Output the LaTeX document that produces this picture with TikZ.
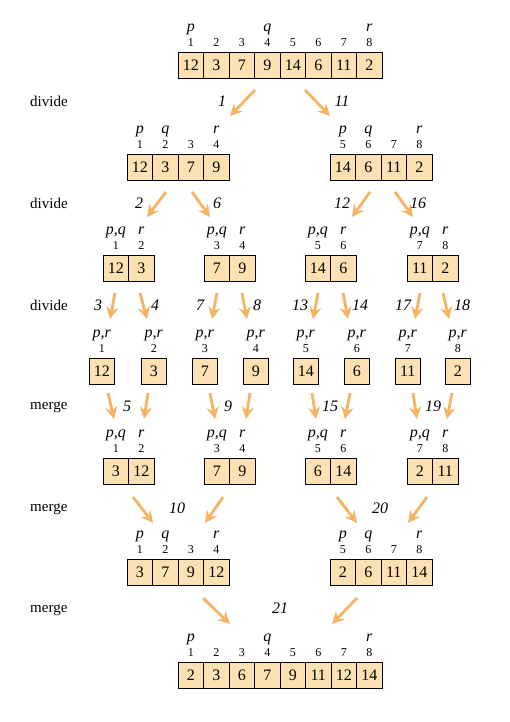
\documentclass[tikz,border=0pt]{standalone}
\usepackage{fontspec}
\setmainfont{Liberation Serif}
\usetikzlibrary{arrows.meta}
\definecolor{cellfill}{RGB}{253,225,178}
\definecolor{arrcol}{RGB}{247,178,98}
\tikzset{
  cell/.style={draw=black, fill=cellfill, line width=0.9pt, minimum width=25.5pt, minimum height=26pt, inner sep=0pt, font=\fontsize{16}{16}\selectfont},
  idx/.style={inner sep=0pt, font=\fontsize{12}{12}\selectfont},
  lett/.style={inner sep=0pt, text height=1.6ex, text depth=0.5ex, font=\fontsize{16}{16}\selectfont\itshape},
  lbl/.style={inner sep=0pt, anchor=west, font=\fontsize{15}{15}\selectfont},
  stepnum/.style={inner sep=0pt, font=\fontsize{16}{16}\selectfont\itshape},
  arr/.style={draw=arrcol, line width=2.8pt, -{Stealth[length=12pt,width=12pt,inset=4pt]}}
}
\newcommand\mkarr[4]{%
  \foreach \v/\k [count=\n] in {#4}{%
    \node[cell] (#1-\n) at ({#2+(\n-0.5)*25.5},{#3+13}) {\v};
    \node[idx] (#1-i\n) at ({#2+(\n-0.5)*25.5},{#3-9}) {\k};
  }}
\newcommand\mklet[3]{\path (#1-i#2) ++(0,-14) node[lett] (#1-l#2) {#3};}
\newcommand\arw[3]{\coordinate (#1s) at (#2); \coordinate (#1e) at (#3); \draw[arr] (#1s) -- (#1e);}
\begin{document}
\begin{tikzpicture}[x=1pt,y=-1pt]
\useasboundingbox (0,0) rectangle (509,722);
% level 1
\mkarr{A}{178}{52}{12/1,3/2,7/3,9/4,14/5,6/6,11/7,2/8}
\mklet{A}{1}{p}\mklet{A}{4}{q}\mklet{A}{8}{r}
% level 2
\mkarr{B}{127}{154}{12/1,3/2,7/3,9/4}
\mklet{B}{1}{p}\mklet{B}{2}{q}\mklet{B}{4}{r}
\mkarr{C}{330}{154}{14/5,6/6,11/7,2/8}
\mklet{C}{1}{p}\mklet{C}{2}{q}\mklet{C}{4}{r}
% level 3
\mkarr{D}{103}{255}{12/1,3/2}
\mkarr{E}{204}{255}{7/3,9/4}
\mkarr{F}{305}{255}{14/5,6/6}
\mkarr{G}{407}{255}{11/7,2/8}
\foreach \a in {D,E,F,G}{\mklet{\a}{1}{p,q}\mklet{\a}{2}{r}}
% level 4
\mkarr{H1}{89}{358}{12/1}
\mkarr{H2}{141}{358}{3/2}
\mkarr{H3}{192}{358}{7/3}
\mkarr{H4}{243}{358}{9/4}
\mkarr{H5}{293}{358}{14/5}
\mkarr{H6}{344}{358}{6/6}
\mkarr{H7}{395}{358}{11/7}
\mkarr{H8}{445}{358}{2/8}
\foreach \a in {H1,H2,H3,H4,H5,H6,H7,H8}{\mklet{\a}{1}{p,r}}
% level 5
\mkarr{I}{103}{458}{3/1,12/2}
\mkarr{J}{204}{458}{7/3,9/4}
\mkarr{K}{305}{458}{6/5,14/6}
\mkarr{M}{407}{458}{2/7,11/8}
\foreach \a in {I,J,K,M}{\mklet{\a}{1}{p,q}\mklet{\a}{2}{r}}
% level 6
\mkarr{N}{127}{559}{3/1,7/2,9/3,12/4}
\mklet{N}{1}{p}\mklet{N}{2}{q}\mklet{N}{4}{r}
\mkarr{O}{330}{559}{2/5,6/6,11/7,14/8}
\mklet{O}{1}{p}\mklet{O}{2}{q}\mklet{O}{4}{r}
% level 7
\mkarr{P}{178}{662}{2/1,3/2,6/3,7/4,9/5,11/6,12/7,14/8}
\mklet{P}{1}{p}\mklet{P}{4}{q}\mklet{P}{8}{r}
% side labels
\node[lbl] (d1) at (30,101) {divide};
\node[lbl] (d2) at (30,203) {divide};
\node[lbl] (d3) at (30,305) {divide};
\node[lbl] (m1) at (30,407) {merge};
\node[lbl] (m2) at (30,509) {merge};
\node[lbl] (m3) at (30,610) {merge};
% arrows
\arw{s1}{255,90}{230,116}
\arw{s11}{305,90}{330,116}
\arw{s2}{166,192}{147,217}
\arw{s6}{192,192}{210,217}
\arw{s12}{370,192}{352,217}
\arw{s16}{395,192}{413,217}
\arw{s3}{115,293}{110,319}
\arw{s4}{140,293}{147,319}
\arw{s7}{217,293}{212,319}
\arw{s8}{242,293}{247,319}
\arw{s13}{318,293}{313,319}
\arw{s14}{343,293}{348,319}
\arw{s17}{420,293}{415,319}
\arw{s18}{443,293}{449,319}
\arw{s5a}{108,393}{114,419}
\arw{s5b}{148,393}{144,419}
\arw{s9a}{210,393}{215,419}
\arw{s9b}{250,393}{246,419}
\arw{s15a}{312,393}{316,419}
\arw{s15b}{350,393}{345,419}
\arw{s19a}{413,393}{417,419}
\arw{s19b}{452,393}{447,419}
\arw{s10a}{133,497}{153,523}
\arw{s10b}{223,497}{205,523}
\arw{s20a}{337,497}{357,523}
\arw{s20b}{427,497}{408,523}
\arw{s21a}{203,598}{230,624}
\arw{s21b}{357,598}{332,624}
% step numbers
\node[stepnum] (n1) at (222,101) {1};
\node[stepnum] (n11) at (342,101) {11};
\node[stepnum] (n2) at (139,203) {2};
\node[stepnum] (n6) at (217,203) {6};
\node[stepnum] (n12) at (342,203) {12};
\node[stepnum] (n16) at (418,203) {16};
\node[stepnum] (n3) at (98,305) {3};
\node[stepnum] (n4) at (155,305) {4};
\node[stepnum] (n7) at (200,305) {7};
\node[stepnum] (n8) at (257,305) {8};
\node[stepnum] (n13) at (300,305) {13};
\node[stepnum] (n14) at (360,305) {14};
\node[stepnum] (n17) at (403,305) {17};
\node[stepnum] (n18) at (462,305) {18};
\node[stepnum] (n5) at (127,406) {5};
\node[stepnum] (n9) at (228,406) {9};
\node[stepnum] (n15) at (330,406) {15};
\node[stepnum] (n19) at (433,406) {19};
\node[stepnum] (n10) at (177,508) {10};
\node[stepnum] (n20) at (380,508) {20};
\node[stepnum] (n21) at (280,608) {21};
\end{tikzpicture}
\end{document}
